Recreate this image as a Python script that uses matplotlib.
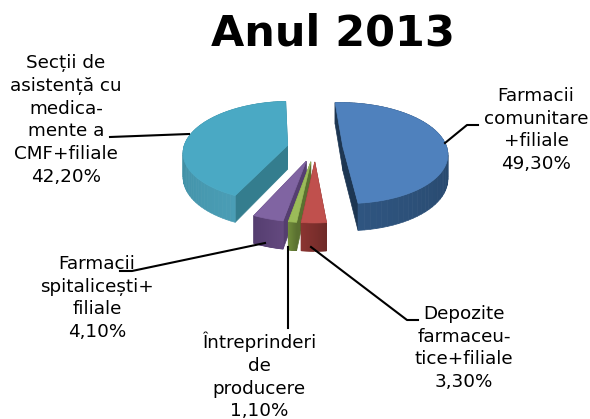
import numpy as np
import matplotlib
matplotlib.use("Agg")
import matplotlib.pyplot as plt
from matplotlib.colors import to_rgb
from matplotlib.patches import Polygon

labels = ["Farmacii\ncomunitare\n+filiale\n49,30%",
          "Depozite\nfarmaceu-\ntice+filiale\n3,30%",
          "Întreprinderi\nde\nproducere\n1,10%",
          "Farmacii\nspitalicești+\nfiliale\n4,10%",
          "Secții de\nasistență cu\nmedica-\nmente a\nCMF+filiale\n42,20%"]
values = [49.3, 3.3, 1.1, 4.1, 42.2]
top_colors = ["#4f81bd", "#c0504d", "#9bbb59", "#8064a2", "#4aa9c4"]
side_light = ["#2f5580", "#8a3431", "#6f8a3a", "#64497f", "#4a9db5"]
side_dark = ["#1d3652", "#6f2a28", "#5a7030", "#553e70", "#347d8e"]
label_pos = [(536, 130), (464, 348), (259, 376), (97, 298), (66, 120)]
leaders = [[(445, 143), (467, 125), (478, 125)],
           [(311, 247), (407, 320), (418, 320)],
           [(288, 247), (288, 328)],
           [(265, 243), (132, 271), (120, 271)],
           [(189, 134), (110, 137)]]

cx, cy = 315, 148   # pie centre on screen
a, b = 104, 50      # ellipse radii
k = 0.12            # perspective
explode = 0.27
thick = 24
first_angle = np.radians(-3)


def project(x, y, drop=0.0):
    w = 1 + k*y
    return cx + a*x/w, cy - b*y/w + drop/w


fig = plt.figure(figsize=(5.9, 4.19), dpi=100)
ax = fig.add_axes([0, 0, 1, 1])
ax.set_xlim(0, 590)
ax.set_ylim(419, 0)
ax.axis("off")

fracs = np.array(values)/sum(values)*2*np.pi
stops = first_angle + np.concatenate([[0], np.cumsum(fracs)])

# back to front
for i in [4, 0, 3, 2, 1]:
    t0, t1 = stops[i], stops[i+1]
    mid = (t0+t1)/2
    ox, oy = explode*np.sin(mid), explode*np.cos(mid)
    th = np.linspace(t0, t1, 60)
    xs = ox + np.sin(th)
    ys = oy + np.cos(th)
    light = np.array(to_rgb(side_light[i]))
    dark = np.array(to_rgb(side_dark[i]))

    # inner walls
    for end in (t0, t1):
        ex, ey = ox + np.sin(end), oy + np.cos(end)
        wall = [project(ox, oy), project(ex, ey), project(ex, ey, thick), project(ox, oy, thick)]
        ax.add_patch(Polygon(wall, closed=True, fc=dark, ec=dark, lw=0.5))

    # outer rim, shaded along the arc
    for j in range(len(th)-1):
        s = j/(len(th)-2)
        if i in (0, 1, 2):
            s = 1-s
        col = light*(1-s) + dark*s
        quad = [project(xs[j], ys[j]), project(xs[j+1], ys[j+1]),
                project(xs[j+1], ys[j+1], thick), project(xs[j], ys[j], thick)]
        ax.add_patch(Polygon(quad, closed=True, fc=col, ec=col, lw=0.5))

    # top face
    pts = [project(ox, oy)] + [project(x, y) for x, y in zip(xs, ys)]
    ax.add_patch(Polygon(pts, closed=True, fc=top_colors[i], ec=top_colors[i], lw=0.5))

for line in leaders:
    ax.plot([p[0] for p in line], [p[1] for p in line], color="black", lw=1.5)

for txt, pos in zip(labels, label_pos):
    ax.text(pos[0], pos[1], txt, ha="center", va="center", fontsize=13.2,
            family="DejaVu Sans", linespacing=1.33, color="black")

ax.text(333, 33, "Anul 2013", ha="center", va="center", fontsize=31, fontweight="bold",
        family="DejaVu Sans", color="black")

fig.savefig("out.png", dpi=100)
